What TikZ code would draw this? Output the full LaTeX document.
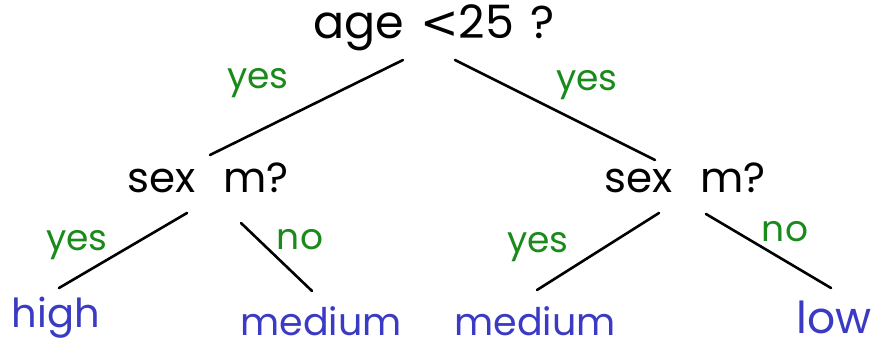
\documentclass[tikz,border=0pt]{standalone}
\usepackage{fontspec}
\setmainfont{Poppins}
\newfontfamily\lessfont{DejaVu Sans}
\usepackage{tikz}
\usetikzlibrary{positioning}
\definecolor{treegreen}{HTML}{1A8A1A}
\definecolor{treeblue}{HTML}{3A3AC4}

\begin{document}
\begin{tikzpicture}[
    x=0.5pt,y=-0.5pt,
    question/.style={anchor=base,inner sep=0pt,text=black,font=\fontsize{21}{24}\selectfont},
    answer/.style={anchor=base,inner sep=0pt,text=treegreen,font=\fontsize{18}{22}\selectfont},
    leaf/.style={anchor=base,inner sep=0pt,text=treeblue,font=\fontsize{19}{24}\selectfont},
    branch/.style={line width=1.3pt,line cap=round,black}
  ]
    \useasboundingbox (0,0) rectangle (874,347);
    \node[question,font=\fontsize{23}{26}\selectfont] (root) at (434,39) {age\hspace{8pt}{\lessfont<}25\hspace{8pt}?};
    \node[question] (sexL) at (208,193) {sex\hspace{14pt}m?};
    \node[question] (sexR) at (685,193) {sex\hspace{14pt}m?};
    \node[leaf,font=\fontsize{20}{24}\selectfont] (high) at (56,328) {high};
    \node[leaf] (mediumL) at (321,336) {medium};
    \node[leaf] (mediumR) at (535,336) {medium};
    \node[leaf,font=\fontsize{22}{26}\selectfont] (low) at (834,334) {low};
    \node[answer] (yesRootL) at (258,89) {yes};
    \node[answer] (yesRootR) at (587,91) {yes};
    \node[answer] (yesSexL) at (77,251) {yes};
    \node[answer] (noSexL) at (300,250) {no};
    \node[answer] (yesSexR) at (538,253) {yes};
    \node[answer] (noSexR) at (785,242) {no};
    \draw[branch] ([shift={(-31,21)}]root.base) -- ([shift={(2,-38)}]sexL.base);
    \draw[branch] ([shift={(21,21)}]root.base) -- ([shift={(-30,-33)}]sexR.base);
    \draw[branch] ([shift={(-21,20)}]sexL.base) -- ([shift={(3,-40)}]high.base);
    \draw[branch] ([shift={(33,30)}]sexL.base) -- ([shift={(-9,-45)}]mediumL.base);
    \draw[branch] ([shift={(-26,20)}]sexR.base) -- ([shift={(2,-46)}]mediumR.base);
    \draw[branch] ([shift={(21,21)}]sexR.base) -- ([shift={(-3,-46)}]low.base);
  \end{tikzpicture}
\end{document}
